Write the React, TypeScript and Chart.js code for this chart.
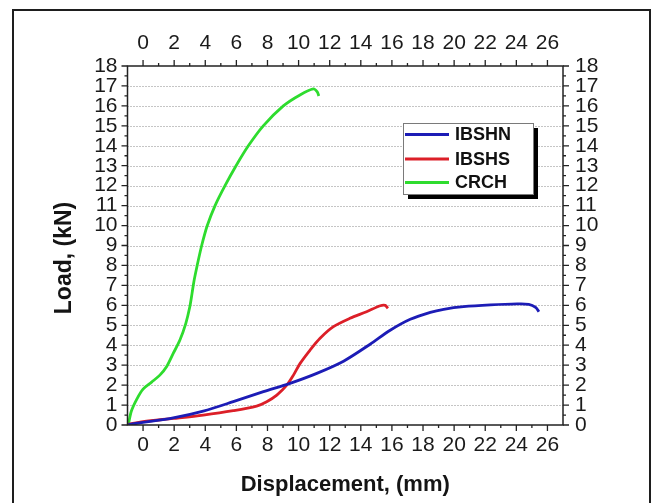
import { useEffect, useRef } from "react";
import { Chart, registerables } from "chart.js";

Chart.register(...registerables);

const seriesNames = ["IBSHN", "IBSHS", "CRCH"];
const seriesColors = ["#1c1cb6", "#dc1f28", "#2edc2e"];

const ibshnX = [-0.95, 0, 1.94, 3.87, 5.8, 7.74, 9.45, 11.17, 12.89, 14.6, 15.89, 17.18, 18.47, 19.33, 20.6, 22.34, 24.06, 24.8, 25.24, 25.45];
const ibshnY = [0.02, 0.13, 0.36, 0.7, 1.17, 1.67, 2.09, 2.59, 3.2, 4.05, 4.75, 5.3, 5.65, 5.8, 5.93, 6.02, 6.07, 6.05, 5.9, 5.68];

const ibshsX = [-0.95, 0, 1.94, 3.87, 5.8, 7.3, 7.95, 8.6, 9.24, 9.67, 10.1, 10.74, 11.38, 12.24, 13.3, 14.37, 15.25, 15.57, 15.74];
const ibshsY = [0.03, 0.17, 0.33, 0.5, 0.72, 0.95, 1.17, 1.5, 2.0, 2.5, 3.09, 3.76, 4.35, 4.93, 5.35, 5.68, 5.98, 6.0, 5.85];

const crchX = [-0.95, -0.75, -0.4, 0, 0.55, 1.08, 1.51, 1.94, 2.37, 2.75, 3.0, 3.15, 3.27, 3.48, 3.77, 4.13, 4.63, 5.27, 5.98, 6.77, 7.73, 9.02, 10.09, 10.95, 11.2, 11.3];
const crchY = [0, 0.7, 1.3, 1.8, 2.15, 2.5, 2.92, 3.59, 4.26, 5.1, 5.9, 6.6, 7.2, 8, 9, 10, 11, 12, 13, 14, 15, 16, 16.55, 16.85, 16.7, 16.5];

const xTickValues = [0, 2, 4, 6, 8, 10, 12, 14, 16, 18, 20, 22, 24, 26];
const xMinorValues = [1, 3, 5, 7, 9, 11, 13, 15, 17, 19, 21, 23, 25];
const yTickValues = [0, 1, 2, 3, 4, 5, 6, 7, 8, 9, 10, 11, 12, 13, 14, 15, 16, 17, 18];
const xRange = [-1, 27];
const yRange = [0, 18];

const xTitle = "Displacement, (mm)";
const yTitle = "Load, (kN)";

const FONT = "'Liberation Sans', Arial, Helvetica, sans-serif";

const toPoints = (xs: number[], ys: number[]) => xs.map((x, i) => ({ x, y: ys[i] }));

export default function App() {
  const canvasRef = useRef<HTMLCanvasElement | null>(null);

  useEffect(() => {
    const canvas = canvasRef.current;
    if (!canvas) return;

    const decor = {
      id: "decor",
      beforeDraw(chart: any) {
        const ctx = chart.ctx;
        ctx.save();
        ctx.fillStyle = "#ffffff";
        ctx.fillRect(0, 0, chart.width, chart.height);
        ctx.strokeStyle = "#1e1e1e";
        ctx.lineWidth = 2;
        ctx.strokeRect(13, 10, 637, 600);
        ctx.restore();
      },
      beforeDatasetsDraw(chart: any) {
        const ctx = chart.ctx;
        const { left, right } = chart.chartArea;
        const ys = chart.scales.y;
        ctx.save();
        ctx.strokeStyle = "#8a8a8a";
        ctx.lineWidth = 1;
        ctx.setLineDash([1, 2]);
        yTickValues.forEach((v) => {
          if (v === yRange[0] || v === yRange[1]) return;
          const y = Math.round(ys.getPixelForValue(v)) + 0.5;
          ctx.beginPath();
          ctx.moveTo(left, y);
          ctx.lineTo(right, y);
          ctx.stroke();
        });
        ctx.restore();
      },
      afterDatasetsDraw(chart: any) {
        const ctx = chart.ctx;
        const { left, right, top, bottom } = chart.chartArea;
        const xs = chart.scales.x;
        const ys = chart.scales.y;
        ctx.save();
        ctx.strokeStyle = "#222222";
        ctx.lineWidth = 1.5;
        ctx.strokeRect(left, top, right - left, bottom - top);

        ctx.lineWidth = 1.3;
        const vTick = (x: number, len: number) => {
          ctx.beginPath();
          ctx.moveTo(x, bottom);
          ctx.lineTo(x, bottom + len);
          ctx.moveTo(x, top);
          ctx.lineTo(x, top - len);
          ctx.stroke();
        };
        const hTick = (y: number, len: number) => {
          ctx.beginPath();
          ctx.moveTo(left, y);
          ctx.lineTo(left - len, y);
          ctx.moveTo(right, y);
          ctx.lineTo(right + len, y);
          ctx.stroke();
        };
        xTickValues.forEach((v) => vTick(xs.getPixelForValue(v), 6));
        xMinorValues.forEach((v) => vTick(xs.getPixelForValue(v), 3));
        yTickValues.forEach((v) => hTick(ys.getPixelForValue(v), 6));
        yTickValues.forEach((v) => {
          if (v < yRange[1]) hTick(ys.getPixelForValue(v + 0.5), 3);
        });

        // axis titles
        ctx.fillStyle = "#141414";
        ctx.textAlign = "center";
        ctx.textBaseline = "middle";
        ctx.font = `bold 22px ${FONT}`;
        ctx.fillText(xTitle, (left + right) / 2, 485);
        ctx.save();
        ctx.font = `bold 23px ${FONT}`;
        ctx.translate(65, 258);
        ctx.rotate(-Math.PI / 2);
        ctx.fillText(yTitle, 0, 0);
        ctx.restore();

        // legend
        const bx = 403, by = 123, bw = 130, bh = 71;
        ctx.fillStyle = "#000000";
        ctx.fillRect(bx + 5, by + 5, bw, bh);
        ctx.fillStyle = "#ffffff";
        ctx.fillRect(bx, by, bw, bh);
        ctx.strokeStyle = "#7a7a7a";
        ctx.lineWidth = 1;
        ctx.strokeRect(bx + 0.5, by + 0.5, bw, bh);
        const rows = [134.5, 159, 182.5];
        ctx.font = `bold 18px ${FONT}`;
        ctx.textAlign = "left";
        ctx.textBaseline = "middle";
        chart.data.datasets.forEach((ds: any, i: number) => {
          ctx.strokeStyle = ds.borderColor;
          ctx.lineWidth = 3;
          ctx.beginPath();
          ctx.moveTo(405, rows[i]);
          ctx.lineTo(449, rows[i]);
          ctx.stroke();
          ctx.fillStyle = "#111111";
          ctx.fillText(ds.label, 455, rows[i] + 1);
        });
        ctx.restore();
      },
    };

    const tickFont = { family: FONT, size: 21 };
    const tickColor = "#1a1a1a";

    const chart = new Chart(canvas, {
      type: "scatter",
      data: {
        datasets: [
          { label: seriesNames[0], data: toPoints(ibshnX, ibshnY), borderColor: seriesColors[0] },
          { label: seriesNames[1], data: toPoints(ibshsX, ibshsY), borderColor: seriesColors[1] },
          { label: seriesNames[2], data: toPoints(crchX, crchY), borderColor: seriesColors[2] },
        ].map((d) => ({
          ...d,
          showLine: true,
          pointRadius: 0,
          pointHoverRadius: 0,
          borderWidth: 2.8,
          fill: false,
          tension: 0.3,
          backgroundColor: d.borderColor,
        })),
      },
      options: {
        animation: false,
        responsive: false,
        devicePixelRatio: 1,
        layout: { padding: 0 },
        plugins: { legend: { display: false }, tooltip: { enabled: false }, title: { display: false } },
        scales: {
          x: {
            type: "linear",
            axis: "x",
            position: "bottom",
            min: xRange[0],
            max: xRange[1],
            afterBuildTicks: (s: any) => {
              s.ticks = xTickValues.map((v) => ({ value: v }));
            },
            afterFit: (s: any) => {
              s.height = 78;
            },
            grid: { display: false, drawTicks: false },
            border: { display: false },
            ticks: { font: tickFont, color: tickColor, padding: 8, maxRotation: 0, autoSkip: false },
          },
          x2: {
            type: "linear",
            axis: "x",
            position: "top",
            min: xRange[0],
            max: xRange[1],
            afterBuildTicks: (s: any) => {
              s.ticks = xTickValues.map((v) => ({ value: v }));
            },
            afterFit: (s: any) => {
              s.height = 66;
            },
            grid: { display: false, drawTicks: false },
            border: { display: false },
            ticks: { font: tickFont, color: tickColor, padding: 10, maxRotation: 0, autoSkip: false },
          },
          y: {
            type: "linear",
            axis: "y",
            position: "left",
            min: yRange[0],
            max: yRange[1],
            afterBuildTicks: (s: any) => {
              s.ticks = yTickValues.map((v) => ({ value: v }));
            },
            afterFit: (s: any) => {
              s.width = 127.5;
            },
            grid: { display: false, drawTicks: false },
            border: { display: false },
            ticks: { font: tickFont, color: tickColor, padding: 10, autoSkip: false },
          },
          y2: {
            type: "linear",
            axis: "y",
            position: "right",
            min: yRange[0],
            max: yRange[1],
            afterBuildTicks: (s: any) => {
              s.ticks = yTickValues.map((v) => ({ value: v }));
            },
            afterFit: (s: any) => {
              s.width = 90;
            },
            grid: { display: false, drawTicks: false },
            border: { display: false },
            ticks: { font: tickFont, color: tickColor, padding: 12, autoSkip: false },
          },
        },
      },
      plugins: [decor],
    } as any);

    return () => chart.destroy();
  }, []);

  return (
    <div style={{ position: "absolute", left: 0, top: 0, width: 653, height: 503, overflow: "hidden", background: "#fff" }}>
      <canvas ref={canvasRef} width={653} height={503} style={{ display: "block", width: 653, height: 503 }} />
    </div>
  );
}
